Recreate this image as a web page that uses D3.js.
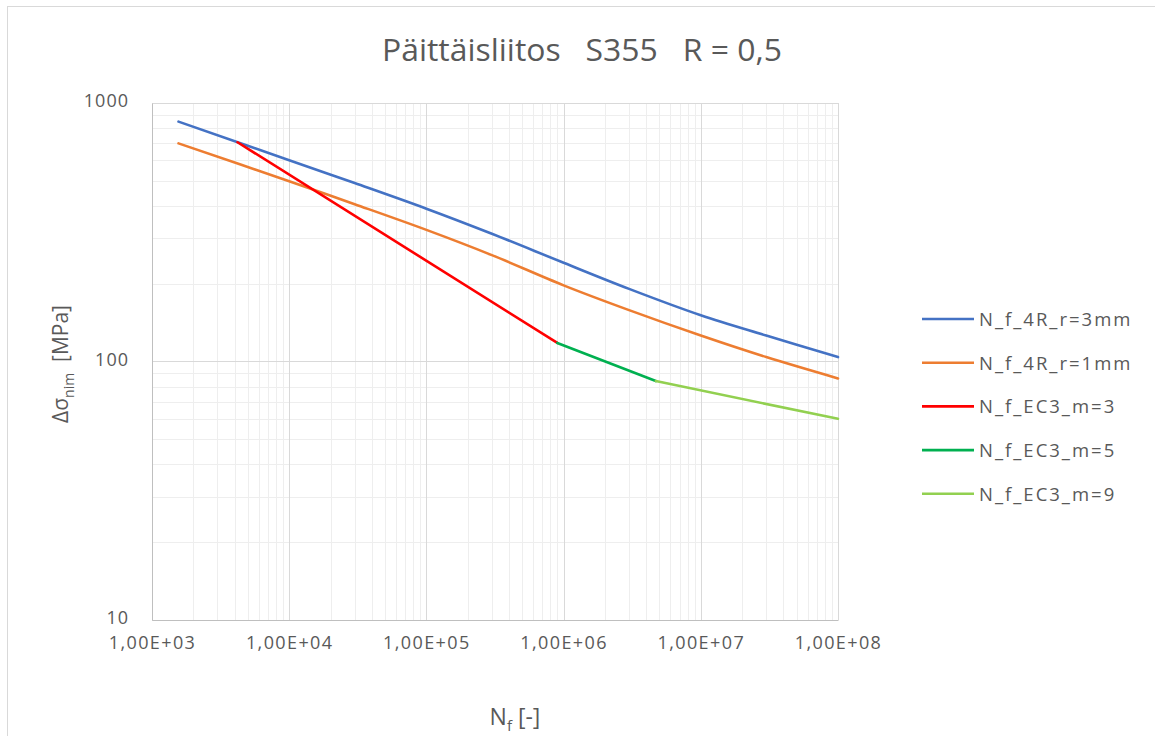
<!DOCTYPE html>
<html lang="fi">
<head>
<meta charset="UTF-8">
<title>Päittäisliitos S355 R = 0,5</title>
<script src="https://d3js.org/d3.v7.min.js"></script>
<style>
  body { margin: 0; background: #fff; }
  svg text { font-family: "Open Sans", "Noto Sans", sans-serif; fill: #595959; }
  .grid-major { stroke: #d9d9d9; stroke-width: 1; }
  .grid-minor { stroke: #eeeeee; stroke-width: 1; }
</style>
</head>
<body>
<svg id="chart"></svg>
<script>
// N_f values (cycles) and stress ranges
const nCurve = [1.56e3, 1e4, 3e4, 1e5, 3e5, 1e6, 3e6, 1e7, 3e7, 1e8];
const r3mm = [847, 601, 490, 390, 312, 241, 191, 151, 126, 104];
const r1mm = [698, 498, 406, 323, 258, 197, 158, 126, 104, 86];

const ec3m3N = [4.2e3, 9e5];
const ec3m3S = [705, 118];
const ec3m5N = [9e5, 4.7e6];
const ec3m5S = [118, 84];
const ec3m9N = [4.7e6, 1e8];
const ec3m9S = [84, 60];

const xTicks = [1e3, 1e4, 1e5, 1e6, 1e7, 1e8];
const xTickLabels = ["1,00E+03", "1,00E+04", "1,00E+05", "1,00E+06", "1,00E+07", "1,00E+08"];
const yTicks = [10, 100, 1000];

const series = [
  { name: "N_f_4R_r=3mm", color: "#4472C4", n: nCurve, s: r3mm, smooth: true },
  { name: "N_f_4R_r=1mm", color: "#ED7D31", n: nCurve, s: r1mm, smooth: true },
  { name: "N_f_EC3_m=3", color: "#FF0000", n: ec3m3N, s: ec3m3S },
  { name: "N_f_EC3_m=5", color: "#00B050", n: ec3m5N, s: ec3m5S },
  { name: "N_f_EC3_m=9", color: "#92D050", n: ec3m9N, s: ec3m9S }
];

const W = 1155, H = 736;
const plot = { left: 152, right: 838, top: 103, bottom: 620 };

const svg = d3.select("#chart").attr("width", W).attr("height", H);

// outer chart border
svg.append("rect")
  .attr("x", 7.5).attr("y", 6.5)
  .attr("width", W).attr("height", H)
  .attr("fill", "none").attr("stroke", "#d9d9d9");

const x = d3.scaleLog().domain([1e3, 1e8]).range([plot.left, plot.right]);
const y = d3.scaleLog().domain([10, 1000]).range([plot.bottom, plot.top]);

// minor grid
const minorX = [], minorY = [];
for (let d = 1e3; d < 1e8; d *= 10) for (let k = 2; k <= 9; k++) minorX.push(d * k);
for (let d = 10; d < 1000; d *= 10) for (let k = 2; k <= 9; k++) minorY.push(d * k);

const grid = svg.append("g");
grid.selectAll(".mx").data(minorX).enter().append("line")
  .attr("class", "grid-minor")
  .attr("x1", d => Math.round(x(d)) + 0.5).attr("x2", d => Math.round(x(d)) + 0.5)
  .attr("y1", plot.top).attr("y2", plot.bottom);
grid.selectAll(".my").data(minorY).enter().append("line")
  .attr("class", "grid-minor")
  .attr("y1", d => Math.round(y(d)) + 0.5).attr("y2", d => Math.round(y(d)) + 0.5)
  .attr("x1", plot.left).attr("x2", plot.right);
grid.selectAll(".Mx").data(xTicks).enter().append("line")
  .attr("class", "grid-major")
  .attr("x1", d => Math.round(x(d)) + 0.5).attr("x2", d => Math.round(x(d)) + 0.5)
  .attr("y1", plot.top).attr("y2", plot.bottom);
grid.selectAll(".My").data(yTicks).enter().append("line")
  .attr("class", "grid-major")
  .attr("y1", d => Math.round(y(d)) + 0.5).attr("y2", d => Math.round(y(d)) + 0.5)
  .attr("x1", plot.left).attr("x2", plot.right);

// axes (labels only, Excel style)
const xAxis = svg.append("g")
  .attr("transform", `translate(0,${plot.bottom})`)
  .call(d3.axisBottom(x).tickValues(xTicks).tickSize(0).tickPadding(16)
    .tickFormat((d, i) => xTickLabels[i]));
xAxis.select(".domain").attr("stroke", "#bfbfbf");
xAxis.selectAll("text").style("font-size", "18px").style("letter-spacing", "1.4px").attr("fill", "#595959");

const yAxis = svg.append("g")
  .attr("transform", `translate(${plot.left},0)`)
  .call(d3.axisLeft(y).tickValues(yTicks).tickSize(0).tickPadding(23)
    .tickFormat(d3.format("d")));
yAxis.select(".domain").attr("stroke", "#bfbfbf");
yAxis.selectAll("text").attr("dy", "0.2em")
  .style("font-size", "18px").style("letter-spacing", "1px").attr("fill", "#595959");

// series lines
const lineSmooth = d3.line().x(d => x(d[0])).y(d => y(d[1])).curve(d3.curveCatmullRom.alpha(0.5));
const lineStraight = d3.line().x(d => x(d[0])).y(d => y(d[1]));

series.forEach(sr => {
  const pts = sr.n.map((v, i) => [v, sr.s[i]]);
  svg.append("path")
    .datum(pts)
    .attr("fill", "none")
    .attr("stroke", sr.color)
    .attr("stroke-width", 2.6)
    .attr("stroke-linecap", "round")
    .attr("d", sr.smooth ? lineSmooth : lineStraight);
});

// title
svg.append("text")
  .attr("x", 582).attr("y", 61)
  .attr("text-anchor", "middle")
  .attr("textLength", 400)
  .attr("lengthAdjust", "spacingAndGlyphs")
  .style("font-size", "31px")
  .style("white-space", "pre")
  .attr("xml:space", "preserve")
  .text("Päittäisliitos   S355   R = 0,5");

// x axis title
const xt = svg.append("text")
  .attr("x", 515).attr("y", 725)
  .attr("text-anchor", "middle")
  .style("font-size", "23px");
xt.append("tspan").text("N");
xt.append("tspan").attr("dy", 6).style("font-size", "15px").text("f");
xt.append("tspan").attr("dy", -6).text(" [-]");

// y axis title
const yt = svg.append("text")
  .attr("transform", "translate(68,364) rotate(-90)")
  .attr("text-anchor", "middle")
  .style("font-size", "21px")
  .style("white-space", "pre")
  .attr("xml:space", "preserve");
yt.append("tspan").text("Δσ");
yt.append("tspan").attr("dy", 6).style("font-size", "14px").text("nim");
yt.append("tspan").attr("dy", -6).text("  [MPa]");

// legend
const legend = svg.append("g");
series.forEach((sr, i) => {
  const ly = 319 + i * 43.7;
  legend.append("line")
    .attr("x1", 922).attr("x2", 974)
    .attr("y1", ly).attr("y2", ly)
    .attr("stroke", sr.color).attr("stroke-width", 2.6);
  legend.append("text")
    .attr("x", 979).attr("y", ly + 7)
    .style("font-size", "18.5px")
    .style("letter-spacing", "2px")
    .text(sr.name);
});
</script>
</body>
</html>
